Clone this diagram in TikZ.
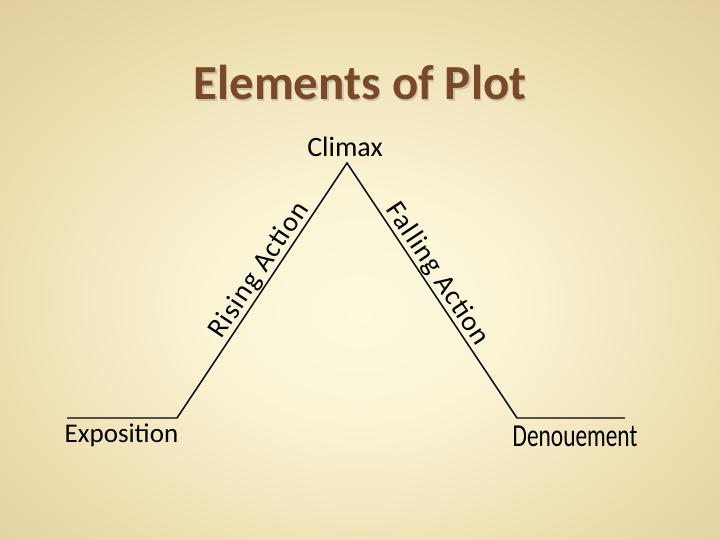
\documentclass[tikz,border=0pt]{standalone}
\usepackage{fontspec}
\setmainfont{Carlito}
\newfontfamily\spacedfont[LetterSpace=4]{Carlito}
\usetikzlibrary{positioning}
\definecolor{plotbrown}{HTML}{7A4A28}
\pgfdeclareradialshading{parchment}{\pgfpoint{0bp}{-4bp}}{%
  rgb(0bp)=(0.992,0.976,0.871);
  rgb(10bp)=(0.985,0.960,0.840);
  rgb(26bp)=(0.930,0.870,0.690);
  rgb(48bp)=(0.830,0.745,0.555);
  rgb(71bp)=(0.765,0.650,0.455)}
\begin{document}
\begin{tikzpicture}[x=1pt,y=-1pt,
    lbl/.style={font=\fontsize{27}{31}\selectfont},
    slant/.style={font=\fontsize{28}{32}\spacedfont,sloped,inner sep=0pt,above=0.5pt},
    stage/.style={line width=1.4pt}]
  \shade[shading=parchment] (0,0) rectangle (720,540);
  \useasboundingbox (0,0) rectangle (720,540);
  % title with its soft shadow
  \node[anchor=base,text=black!40,opacity=0.45,font=\fontsize{49}{56}\selectfont\bfseries] at (361.5,101.5) {Elements of Plot};
  \node (title) [anchor=base,text=plotbrown,font=\fontsize{49}{56}\selectfont\bfseries] at (360,100) {Elements of Plot};
  \path (67,418) coordinate (e0)
        (177,418) coordinate (e1)
        (347,163) coordinate (peak)
        (517,418) coordinate (d0)
        (625,418) coordinate (d1);
  \node (climax) [lbl,font=\fontsize{28}{32}\selectfont,anchor=base] at (345,157) {Climax};
  \node (expo) [lbl,anchor=base] at (121.5,442) {Exposition};
  \node (denoue) [anchor=base,font=\fontsize{32}{36}\selectfont,xscale=0.73] at (575,446.5) {Denouement};
  \draw[stage] (e0) -- (e1) -- (peak) node[slant,pos=0.55] (rising) {Rising Action}
        -- (d0) node[slant,pos=0.465] (falling) {Falling Action} -- (d1);
\end{tikzpicture}
\end{document}
